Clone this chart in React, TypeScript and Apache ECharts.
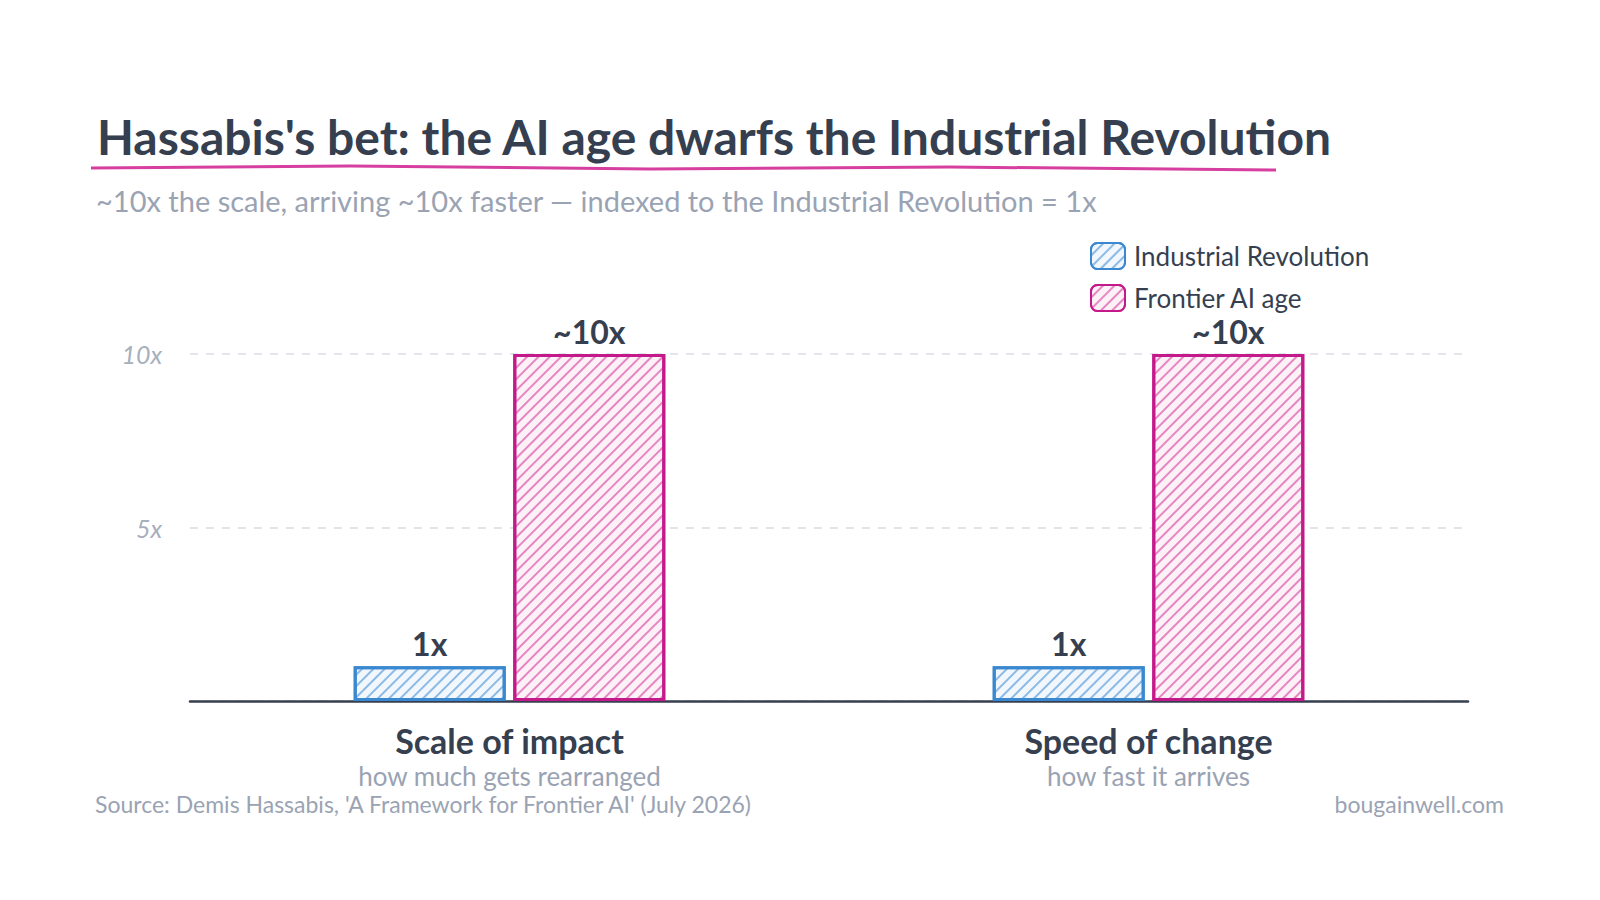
import React, { useEffect, useRef } from "react";
import * as echarts from "echarts";

const categories = ["Scale of impact", "Speed of change"];
const categoryNotes = ["how much gets rearranged", "how fast it arrives"];
const seriesNames = ["Industrial Revolution", "Frontier AI age"];
const industrialValues = [1, 1];
const frontierValues = [10, 10];
const industrialLabels = ["1x", "1x"];
const frontierLabels = ["~10x", "~10x"];
const yTicks = [5, 10];

const FONT = "Lato, 'Open Sans', sans-serif";
const DARK = "#363f4f";
const GRAY = "#9aa3b3";
const PINK = "#c4198b";
const BLUE = "#3a88cf";

export default function App() {
  const ref = useRef<HTMLDivElement>(null);
  useEffect(() => {
    if (!ref.current) return;
    const chart = echarts.init(ref.current, undefined, { renderer: "svg" });
    const mkLabel = (labels: string[]) => ({
      show: true,
      position: "top",
      distance: 7,
      formatter: (p: any) => labels[p.dataIndex],
      fontFamily: FONT,
      fontWeight: "bold",
      fontSize: 32,
      color: DARK,
    });
    chart.setOption({
      animation: false,
      backgroundColor: "#ffffff",
      textStyle: { fontFamily: FONT },
      title: [
        {
          text: "Hassabis's bet: the AI age dwarfs the Industrial Revolution",
          left: 92,
          top: 107,
          textStyle: { fontFamily: FONT, fontSize: 48, fontWeight: "bold", color: DARK },
        },
        {
          text: "~10x the scale, arriving ~10x faster — indexed to the Industrial Revolution = 1x",
          left: 91,
          top: 181,
          textStyle: { fontFamily: FONT, fontSize: 29, fontWeight: "normal", color: GRAY },
        },
      ],
      legend: {
        orient: "vertical",
        left: 1085,
        top: 237,
        itemWidth: 34,
        itemHeight: 26,
        itemGap: 14,
        data: seriesNames,
        textStyle: { fontFamily: FONT, fontSize: 26, color: DARK, padding: [0, 0, 0, 4] },
      },
      grid: { left: 190, right: 132, top: 354, bottom: 199, containLabel: false },
      xAxis: {
        type: "category",
        data: categories,
        axisLine: { show: true, lineStyle: { color: DARK, width: 2.5 } },
        axisTick: { show: false },
        axisLabel: {
          margin: 20,
          interval: 0,
          formatter: (v: string, i: number) => `{a|${v}}\n{b|${categoryNotes[i]}}`,
          rich: {
            a: { fontFamily: FONT, fontSize: 34, fontWeight: "bold", color: DARK, lineHeight: 38 },
            b: { fontFamily: FONT, fontSize: 26, color: GRAY, lineHeight: 34 },
          },
        },
      },
      yAxis: {
        type: "value",
        min: 0,
        max: 10,
        interval: 5,
        axisLine: { show: false },
        axisTick: { show: false },
        axisLabel: {
          showMinLabel: false,
          margin: 28,
          formatter: (v: number) => (yTicks.includes(v) ? `${v}x` : ""),
          fontFamily: FONT,
          fontStyle: "italic",
          fontSize: 25,
          color: "#a7afbc",
        },
        splitLine: { lineStyle: { color: "#d9dde3", type: [8, 8], width: 1.5 } },
      },
      series: [
        {
          name: seriesNames[0],
          type: "bar",
          data: industrialValues,
          barWidth: 152,
          barGap: "5%",
          itemStyle: {
            color: "#f1f7fd",
            borderColor: BLUE,
            borderWidth: 3,
            decal: {
              symbol: "rect",
              symbolSize: 1,
              dashArrayX: [[1, 0]],
              dashArrayY: [2, 6],
              rotation: -Math.PI / 4,
              color: "rgba(58,136,207,0.55)",
            },
          },
          label: mkLabel(industrialLabels),
        },
        {
          name: seriesNames[1],
          type: "bar",
          data: frontierValues,
          barWidth: 152,
          barGap: "5%",
          itemStyle: {
            color: "#fdf1f8",
            borderColor: PINK,
            borderWidth: 3,
            decal: {
              symbol: "rect",
              symbolSize: 1,
              dashArrayX: [[1, 0]],
              dashArrayY: [2, 6],
              rotation: -Math.PI / 4,
              color: "rgba(214,63,160,0.6)",
            },
          },
          label: mkLabel(frontierLabels),
        },
      ],
      graphic: [
        {
          type: "polyline",
          shape: { points: [[91, 168], [350, 166], [650, 169], [950, 167], [1276, 170]] },
          style: { stroke: "#d63fa0", lineWidth: 3, fill: "none" },
        },
        {
          type: "text",
          left: 95,
          top: 792,
          style: {
            text: "Source: Demis Hassabis, 'A Framework for Frontier AI' (July 2026)",
            fontFamily: FONT,
            fontSize: 23,
            fill: GRAY,
          },
        },
        {
          type: "text",
          right: 96,
          top: 792,
          style: { text: "bougainwell.com", fontFamily: FONT, fontSize: 23, fill: GRAY },
        },
      ],
    });
    return () => chart.dispose();
  }, []);
  return (
    <div
      ref={ref}
      style={{ position: "fixed", left: 0, top: 0, width: 1600, height: 900 }}
    />
  );
}
